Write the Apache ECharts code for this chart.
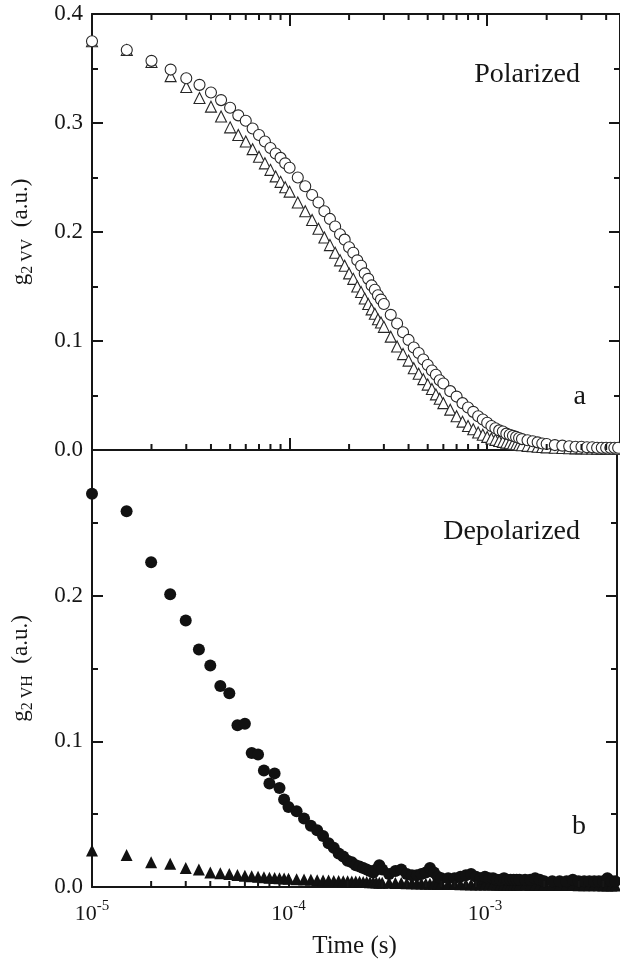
<!DOCTYPE html>
<html>
<head>
<meta charset="utf-8">
<script src="https://cdn.jsdelivr.net/npm/echarts@6/dist/echarts.min.js"></script>
<style>
  html, body { margin: 0; padding: 0; background: #ffffff; }
  #chart { width: 620px; height: 960px; }
</style>
</head>
<body>
<div id="chart"></div>
<script>
// Correlation delay times (s), shared by all four curves
const timeS = [
  1.0e-5, 1.5e-5, 2.0e-5, 2.5e-5, 3.0e-5, 3.5e-5, 4.0e-5, 4.5e-5, 5.0e-5, 5.5e-5,
  6.0e-5, 6.5e-5, 7.0e-5, 7.5e-5, 8.0e-5, 8.5e-5, 9.0e-5, 9.5e-5, 1.0e-4,
  1.1e-4, 1.2e-4, 1.3e-4, 1.4e-4, 1.5e-4, 1.6e-4, 1.7e-4, 1.8e-4, 1.9e-4, 2.0e-4,
  2.1e-4, 2.2e-4, 2.3e-4, 2.4e-4, 2.5e-4, 2.6e-4, 2.7e-4, 2.8e-4, 2.9e-4, 3.0e-4,
  3.25e-4, 3.5e-4, 3.75e-4, 4.0e-4, 4.25e-4, 4.5e-4, 4.75e-4, 5.0e-4, 5.25e-4, 5.5e-4,
  5.75e-4, 6.0e-4,
  6.5e-4, 7.0e-4, 7.5e-4, 8.0e-4, 8.5e-4, 9.0e-4, 9.5e-4, 1.0e-3, 1.05e-3, 1.1e-3,
  1.15e-3, 1.2e-3, 1.25e-3, 1.3e-3, 1.35e-3, 1.4e-3, 1.45e-3, 1.5e-3,
  1.6e-3, 1.7e-3, 1.8e-3, 1.9e-3, 2.0e-3, 2.2e-3, 2.4e-3, 2.6e-3, 2.8e-3, 3.0e-3,
  3.2e-3, 3.4e-3, 3.6e-3, 3.8e-3, 4.0e-3, 4.2e-3, 4.4e-3, 4.6e-3, 4.8e-3
];

// Polarized (VV) intensity correlation, open circles
const vvCircles = [
  0.375, 0.367, 0.357, 0.349, 0.341, 0.335, 0.328, 0.321, 0.314, 0.307,
  0.302, 0.295, 0.289, 0.283, 0.277, 0.272, 0.268, 0.263, 0.259,
  0.250, 0.242, 0.234, 0.227, 0.219, 0.212, 0.205, 0.198, 0.193, 0.186,
  0.181, 0.174, 0.169, 0.162, 0.157, 0.151, 0.147, 0.142, 0.138, 0.134,
  0.124, 0.116, 0.108, 0.101, 0.094, 0.089, 0.083, 0.078, 0.073, 0.069,
  0.064, 0.061,
  0.054, 0.049, 0.043, 0.039, 0.035, 0.031, 0.028, 0.025, 0.022, 0.020,
  0.018, 0.017, 0.015, 0.014, 0.013, 0.012, 0.011, 0.010,
  0.009, 0.008, 0.007, 0.006, 0.0055, 0.0045, 0.004, 0.0035, 0.003, 0.003,
  0.0025, 0.0025, 0.002, 0.002, 0.002, 0.002, 0.002, 0.002, 0.002
];

// Polarized (VV) intensity correlation, open triangles
const vvTriangles = [
  0.375, 0.367, 0.356, 0.343, 0.333, 0.323, 0.315, 0.306, 0.296, 0.289,
  0.283, 0.276, 0.269, 0.263, 0.257, 0.251, 0.246, 0.241, 0.237,
  0.227, 0.219, 0.211, 0.203, 0.195, 0.188, 0.181, 0.174, 0.169, 0.162,
  0.157, 0.150, 0.145, 0.139, 0.134, 0.129, 0.125, 0.120, 0.117, 0.113,
  0.104, 0.095, 0.088, 0.082, 0.075, 0.070, 0.065, 0.060, 0.056, 0.051,
  0.047, 0.043,
  0.037, 0.031, 0.026, 0.022, 0.019, 0.016, 0.014, 0.012, 0.0105, 0.0093,
  0.0083, 0.0075, 0.0068, 0.0062, 0.0057, 0.0052, 0.0048, 0.0044,
  0.0038, 0.0034, 0.003, 0.0027, 0.0024, 0.002, 0.0018, 0.0016, 0.0015, 0.0015,
  0.0014, 0.0014, 0.0013, 0.0013, 0.0013, 0.0012, 0.0012, 0.0012, 0.0012
];

// Depolarized (VH) intensity correlation, filled circles
const vhCircles = [
  0.270, 0.258, 0.223, 0.201, 0.183, 0.163, 0.152, 0.138, 0.133, 0.111,
  0.112, 0.092, 0.091, 0.080, 0.071, 0.078, 0.068, 0.060, 0.055,
  0.052, 0.047, 0.042, 0.039, 0.035, 0.030, 0.027, 0.023, 0.021, 0.018,
  0.017, 0.015, 0.014, 0.013, 0.012, 0.011, 0.010, 0.012, 0.015, 0.012,
  0.009, 0.011, 0.012, 0.009, 0.008, 0.008, 0.009, 0.010, 0.013, 0.010,
  0.007, 0.006,
  0.006, 0.006, 0.007, 0.008, 0.009, 0.007, 0.006, 0.007, 0.006, 0.006,
  0.005, 0.005, 0.006, 0.005, 0.005, 0.005, 0.005, 0.005,
  0.005, 0.005, 0.006, 0.005, 0.004, 0.004, 0.004, 0.004, 0.005, 0.004,
  0.004, 0.004, 0.004, 0.004, 0.004, 0.006, 0.004, 0.004, 0.004
];

// Depolarized (VH) intensity correlation, filled triangles
const vhTriangles = [
  0.025, 0.022, 0.017, 0.016, 0.013, 0.012, 0.010, 0.0095, 0.009, 0.0082,
  0.0078, 0.0074, 0.007, 0.0067, 0.0064, 0.0062, 0.006, 0.0058, 0.0056,
  0.0053, 0.0051, 0.0049, 0.0047, 0.0045, 0.0044, 0.0042, 0.0041, 0.004, 0.0039,
  0.0038, 0.0037, 0.0036, 0.0035, 0.0034, 0.0033, 0.0032, 0.0031, 0.003, 0.003,
  0.0029, 0.0028, 0.0027, 0.0026, 0.0025, 0.0024, 0.0024, 0.0023, 0.0022, 0.0022,
  0.0021, 0.0021,
  0.002, 0.002, 0.0019, 0.0019, 0.0018, 0.0018, 0.0018, 0.0017, 0.0017, 0.0017,
  0.0016, 0.0016, 0.0016, 0.0016, 0.0015, 0.0015, 0.0015, 0.0015,
  0.0015, 0.0014, 0.0014, 0.0014, 0.0014, 0.0013, 0.0013, 0.0013, 0.0013, 0.0012,
  0.0012, 0.0012, 0.0012, 0.0012, 0.0011, 0.0011, 0.0011, 0.0011, 0.0011
];

// Minor tick positions on the logarithmic time axis
const minorTickTimes = [
  2e-5, 3e-5, 4e-5, 5e-5, 6e-5, 7e-5, 8e-5, 9e-5,
  2e-4, 3e-4, 4e-4, 5e-4, 6e-4, 7e-4, 8e-4, 9e-4,
  2e-3, 3e-3, 4e-3
];

// Panel annotations
const panelTitles = ['Polarized', 'Depolarized'];
const panelLetters = ['a', 'b'];

const FONT = '"Liberation Serif", "Times New Roman", Times, serif';
const INK = '#161616';

const pairs = ys => timeS.map((t, i) => [t, ys[i]]);

const xBase = {
  type: 'log', logBase: 10, min: 1e-5, max: 4.7e-3,
  axisLine: { show: true, onZero: false, lineStyle: { color: INK, width: 2 } },
  axisTick: { show: true, inside: true, length: 12, lineStyle: { color: INK, width: 2 } },
  minorTick: { show: false },
  splitLine: { show: false },
  axisLabel: { show: false }
};

const yBase = {
  type: 'value', min: 0, interval: 0.1,
  axisLine: { show: true, onZero: false, lineStyle: { color: INK, width: 2 } },
  axisTick: { show: true, inside: true, length: 11, lineStyle: { color: INK, width: 2 } },
  minorTick: { show: true, splitNumber: 2, length: 6, lineStyle: { color: INK, width: 2 } },
  splitLine: { show: false },
  minorSplitLine: { show: false }
};

const yNameStyle = {
  fontFamily: FONT, color: INK,
  rich: {
    g: { fontFamily: FONT, fontSize: 23, lineHeight: 30, color: INK },
    s: { fontFamily: FONT, fontSize: 16, lineHeight: 16, verticalAlign: 'bottom', color: INK }
  }
};

const yLabel = (hideTop) => ({
  show: true, fontFamily: FONT, fontSize: 23, color: INK, margin: 9,
  formatter: v => (hideTop !== null && v >= hideTop - 1e-9) ? '' : v.toFixed(1)
});

// Custom series that draws short minor ticks along the time axis
function minorTickSeries(xIdx, yIdx, withTop) {
  return {
    type: 'custom', xAxisIndex: xIdx, yAxisIndex: yIdx, silent: true, z: 5,
    clip: false,
    data: minorTickTimes.map(t => [t, 0]),
    renderItem: (params, api) => {
      const x = api.coord([api.value(0), 0])[0];
      const cs = params.coordSys;
      const st = { stroke: INK, lineWidth: 2 };
      const kids = [{ type: 'line', shape: { x1: x, y1: cs.y + cs.height, x2: x, y2: cs.y + cs.height - 6 }, style: st }];
      if (withTop) kids.push({ type: 'line', shape: { x1: x, y1: cs.y, x2: x, y2: cs.y + 6 }, style: st });
      return { type: 'group', children: kids };
    }
  };
}

const openMark = { color: '#ffffff', borderColor: '#262626', borderWidth: 1.1, opacity: 1 };
const solidMark = { color: '#111111', opacity: 1 };

const chart = echarts.init(document.getElementById('chart'), null, { renderer: 'canvas' });

chart.setOption({
  animation: false,
  backgroundColor: '#ffffff',
  grid: [
    { left: 92, top: 14, width: 528, height: 436 },
    { left: 92, top: 450, width: 528, height: 437 }
  ],
  xAxis: [
    Object.assign({}, xBase, { gridIndex: 0, position: 'bottom' }),
    Object.assign({}, xBase, { gridIndex: 0, position: 'top' }),
    Object.assign({}, xBase, {
      gridIndex: 1, position: 'bottom',
      axisLabel: {
        show: true, margin: 12, color: INK,
        formatter: v => {
          const e = Math.log10(v);
          const r = Math.round(e);
          if (Math.abs(e - r) > 1e-6) return '';
          return '{b|10}{p|' + r + '}';
        },
        rich: {
          b: { fontFamily: FONT, fontSize: 22, lineHeight: 30, color: INK },
          p: { fontFamily: FONT, fontSize: 15, lineHeight: 15, verticalAlign: 'top', color: INK }
        }
      },
      name: 'Time (s)', nameLocation: 'middle', nameGap: 47,
      nameTextStyle: { fontFamily: FONT, fontSize: 25, color: INK }
    })
  ],
  yAxis: [
    Object.assign({}, yBase, {
      gridIndex: 0, position: 'left', max: 0.4, axisLabel: yLabel(null),
      name: '{g|g}{s|2 VV}{g|  (a.u.)}', nameLocation: 'middle', nameGap: 56, nameRotate: 90,
      nameTextStyle: yNameStyle
    }),
    Object.assign({}, yBase, { gridIndex: 0, position: 'right', max: 0.4, axisLabel: { show: false } }),
    Object.assign({}, yBase, {
      gridIndex: 1, position: 'left', max: 0.3, axisLabel: yLabel(0.3),
      name: '{g|g}{s|2 VH}{g|  (a.u.)}', nameLocation: 'middle', nameGap: 56, nameRotate: 90,
      nameTextStyle: yNameStyle
    }),
    Object.assign({}, yBase, { gridIndex: 1, position: 'right', max: 0.3, axisLabel: { show: false } })
  ],
  series: [
    {
      type: 'scatter', xAxisIndex: 0, yAxisIndex: 0, data: pairs(vvTriangles),
      symbol: 'triangle', symbolSize: 11, itemStyle: openMark
    },
    {
      type: 'scatter', xAxisIndex: 0, yAxisIndex: 0, data: pairs(vvCircles),
      symbol: 'circle', symbolSize: 11, itemStyle: openMark
    },
    {
      type: 'scatter', xAxisIndex: 2, yAxisIndex: 2, data: pairs(vhTriangles),
      symbol: 'triangle', symbolSize: 12, itemStyle: solidMark
    },
    {
      type: 'scatter', xAxisIndex: 2, yAxisIndex: 2, data: pairs(vhCircles),
      symbol: 'circle', symbolSize: 12, itemStyle: solidMark
    },
    minorTickSeries(0, 0, true),
    minorTickSeries(2, 2, false)
  ],
  graphic: [
    { type: 'text', x: 580, y: 75, style: { text: panelTitles[0], font: '28px ' + FONT, fill: INK, align: 'right', verticalAlign: 'middle' } },
    { type: 'text', x: 586, y: 397, style: { text: panelLetters[0], font: '28px ' + FONT, fill: INK, align: 'right', verticalAlign: 'middle' } },
    { type: 'text', x: 580, y: 532, style: { text: panelTitles[1], font: '28px ' + FONT, fill: INK, align: 'right', verticalAlign: 'middle' } },
    { type: 'text', x: 586, y: 827, style: { text: panelLetters[1], font: '28px ' + FONT, fill: INK, align: 'right', verticalAlign: 'middle' } }
  ]
});
</script>
</body>
</html>
